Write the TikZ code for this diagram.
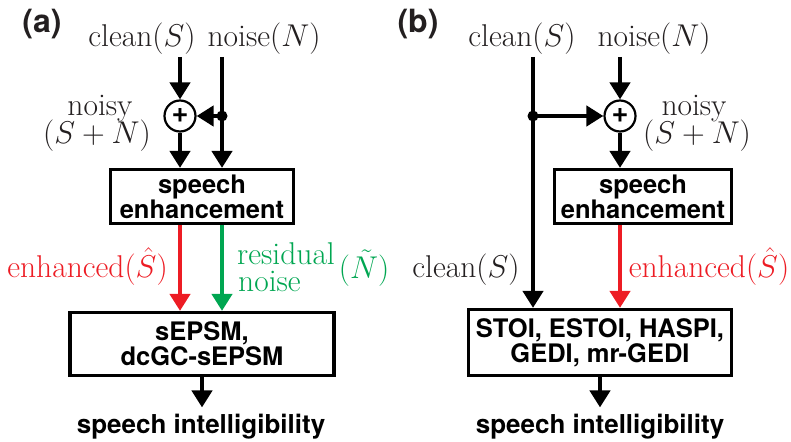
\RequirePackage{fix-cm}
\documentclass[tikz,border=0pt]{standalone}
\usepackage{fontspec}
\newfontfamily\hv{TeX Gyre Heros}
\usetikzlibrary{arrows.meta}
\definecolor{ink}{HTML}{231F20}
\definecolor{ered}{HTML}{ED1C24}
\definecolor{egreen}{HTML}{00A651}
\tikzset{
  mt/.style={font=\fontsize{31.5}{36}\selectfont, text=ink, inner sep=0pt, anchor=base},
  bt/.style={font=\hv\bfseries\fontsize{26}{26}\selectfont, text=black, inner sep=0pt},
  box/.style={draw=black, line width=3.2pt, inner sep=0pt, align=center,
    font=\hv\bfseries\fontsize{25.5}{25}\selectfont},
  arr/.style={line width=4.2pt, -{Triangle[width=20pt,length=17pt]}},
  sum/.style={circle, draw, line width=2.2pt, minimum size=31pt, inner sep=0pt,
    font=\hv\bfseries\fontsize{29}{29}\selectfont},
  dot/.style={circle, fill, minimum size=11pt, inner sep=0pt},
  panel/.style={font=\hv\bfseries\fontsize{32}{40}\selectfont, inner sep=0pt, text=ink}
}
\begin{document}
\begin{tikzpicture}[x=1pt, y=-1pt]
\path[use as bounding box] (0,0) rectangle (791,441);

% ---------------- panel (a)
\node[panel] (la) at (42,24) {(a)};
\node[mt] (cla) at (142,47) {clean$(S)$};
\node[mt] (noa) at (264,47) {noise$(N)$};
\coordinate (sa) at (180,57);
\coordinate (na) at (222,57);
\node[sum] (pa) at (180,116) {+};
\node[dot] (da) at (222,116) {};
\node[mt] (nya) at (100,115) {noisy};
\node[mt] (sna) at (97,143) {$(S+N)$};
\node[box, minimum width=183pt, minimum height=54pt] (sea) at (202,196.5) {speech\\enhancement};
\node[box, minimum width=264pt, minimum height=63pt] (eva) at (202,344) {sEPSM,\\dcGC-sEPSM};
\node[bt, anchor=base] (sia) at (201,433) {speech intelligibility};
\node[mt, text=ered] (enha) at (87.5,277) {enhanced$(\hat{S})$};
\node[mt, text=egreen, anchor=base west] (resa) at (237,264) {residual};
\node[mt, text=egreen, anchor=base west] (rnoa) at (238,291) {noise};
\node[mt, text=egreen] (nta) at (364,278) {$(\tilde{N})$};

\draw[arr] (sa) -- (pa.north);
\draw[arr] (na) -- (na |- sea.north);
\draw[arr] (da.center) -- (pa.east);
\draw[arr] (pa.south) -- (pa |- sea.north);
\draw[arr, ered] (pa |- sea.south) -- (pa |- eva.north);
\draw[arr, egreen] (da |- sea.south) -- (da |- eva.north);
\draw[arr, shorten >=6pt] (eva.south) -- (eva.south |- sia.north);

% ---------------- panel (b)
\node[panel] (lb) at (418,24) {(b)};
\node[mt] (clb) at (522,47) {clean$(S)$};
\node[mt] (nob) at (654,47) {noise$(N)$};
\coordinate (sb) at (533,57);
\coordinate (nb) at (620,57);
\node[sum] (pb) at (620,116) {+};
\node[dot] (db) at (533,116) {};
\node[mt] (nyb) at (694,115) {noisy};
\node[mt] (snb) at (697,143) {$(S+N)$};
\node[box, minimum width=177pt, minimum height=54pt] (seb) at (643,196.5) {speech\\enhancement};
\node[box, minimum width=263pt, minimum height=66pt] (evb) at (600,342.5) {STOI, ESTOI, HASPI,\\GEDI, mr-GEDI};
\node[bt, anchor=base] (sib) at (600,433) {speech intelligibility};
\node[mt] (clb2) at (466,277) {clean$(S)$};
\node[mt, text=ered] (enhb) at (709,277) {enhanced$(\hat{S})$};

\draw[arr] (sb) -- (sb |- evb.north);
\draw[arr] (db.center) -- (pb.west);
\draw[arr] (nb) -- (pb.north);
\draw[arr] (pb.south) -- (pb |- seb.north);
\draw[arr, ered] (pb |- seb.south) -- (pb |- evb.north);
\draw[arr, shorten >=6pt] (evb.south) -- (evb.south |- sib.north);
\end{tikzpicture}
\end{document}
